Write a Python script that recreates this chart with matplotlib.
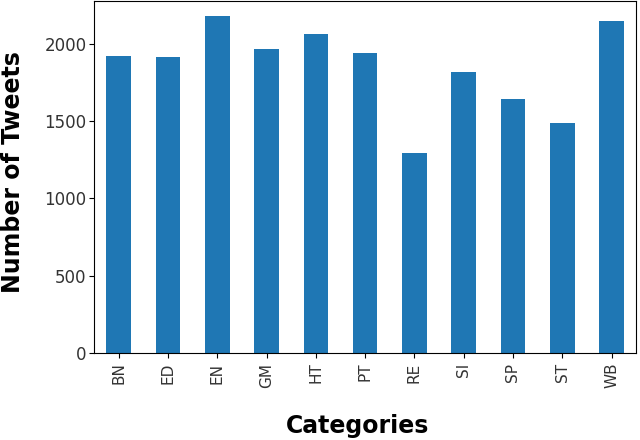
import matplotlib.pyplot as plt
import numpy as np

categories = ['BN', 'ED', 'EN', 'GM', 'HT', 'PT', 'RE', 'SI', 'SP', 'ST', 'WB']
tweets = [1923, 1915, 2180, 1964, 2063, 1938, 1296, 1820, 1643, 1485, 2148]

fig = plt.figure(figsize=(6.4, 4.4), dpi=100)
ax = fig.add_axes([0.147, 0.198, 0.847, 0.80])

x = np.arange(len(categories))
ax.bar(x, tweets, width=0.5, color='#1f77b4')
ax.set_xlim(-0.5, len(categories) - 0.5)
ax.set_ylim(0, max(tweets) * 1.045)
ax.set_xticks(x)
ax.set_xticklabels(categories, rotation=90, fontsize=11, color='#333333')
ax.tick_params(axis='y', labelsize=12, labelcolor='#333333', pad=2)
ax.set_yticks([0, 500, 1000, 1500, 2000])

# axis titles placed in figure coords to match the reference layout
fig.text(0.021, 0.61, 'Number of Tweets', rotation=90, ha='center', va='center',
         fontsize=17, fontweight='bold', family='DejaVu Sans')
fig.text(0.558, 0.032, 'Categories', ha='center', va='center',
         fontsize=17, fontweight='bold', family='DejaVu Sans')

fig.savefig('out.png', dpi=100)
